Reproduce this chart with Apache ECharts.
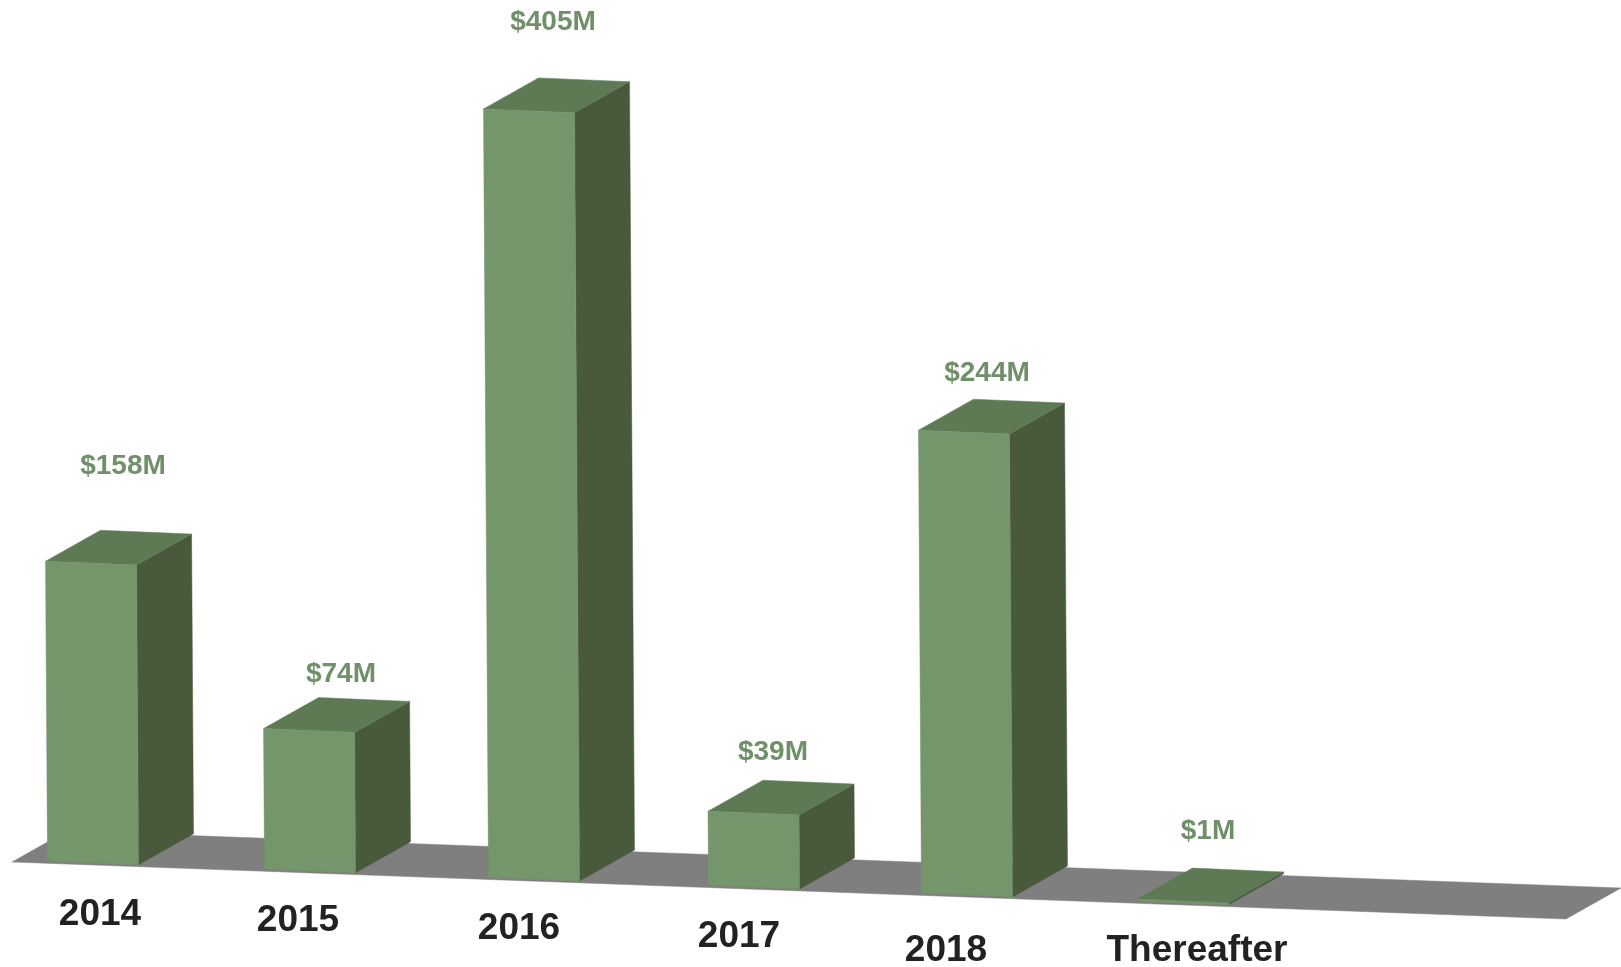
<!DOCTYPE html>
<html>
<head>
<meta charset="utf-8">
<style>html,body{margin:0;padding:0;background:#fff}#c{width:1621px;height:967px}</style>
<script src="https://cdn.jsdelivr.net/npm/echarts@6/dist/echarts.min.js"></script>
</head>
<body>
<div id="c"></div>
<script>
// ---- data ----
const categories = ['2014', '2015', '2016', '2017', '2018', 'Thereafter'];
const values = [158, 74, 405, 39, 244, 1];

// ---- layout of the pseudo-3D drawing (pixels, not data) ----
const barWidth = 91;
const depth = [55, -31];
const floorSlope = 0.0367;
const lean = 0.0065;
const barNudge = [0, -1, 5, 7, 2, 0];
const valueLabelPos = [[123, 466], [341, 674], [553, 22], [773, 752], [987, 373], [1208, 831]];
const catLabelPos = [[100, 915], [298, 921], [519, 929], [739, 937], [946, 951], [1197, 951]];

const C = { front: '#75956b', top: '#5d7a55', side: '#48593c', floor: '#7f7f7f', label: '#6f9068', cat: '#222222' };
const poly = (points, fill) => ({ type: 'polygon', shape: { points }, style: { fill, stroke: fill, lineWidth: 0.5 } });
const drop = x => x * floorSlope;

function renderFloor(params, api) {
  const o = api.coord([0, 0]);
  const left = o[0] - 81, right = left + 1554;   // ground plane extent around the first bar
  const y0 = o[1] + 1;
  const a = [left, y0];
  const b = [right, y0 + 57];
  return { type: 'group', children: [poly([
    a, b, [b[0] + depth[0], b[1] + depth[1]], [a[0] + depth[0], a[1] + depth[1]]
  ], C.floor)] };
}

function renderBar(params, api) {
  const i = params.dataIndex;
  const base0 = api.coord([i, 0]);
  const top0 = api.coord([i, api.value(1)]);
  const h = base0[1] - top0[1];
  const firstX = api.coord([0, 0])[0];
  const cx = base0[0] + barNudge[i];
  const yb = base0[1] + drop(cx - firstX);
  const xl = cx - barWidth / 2, xr = cx + barWidth / 2;
  const s = barWidth * 0.042;
  const dx = h * lean;
  const BL = [xl, yb], BR = [xr, yb + s];
  const TL = [xl - dx, yb - h], TR = [xr - dx, yb - h + s];
  const bTL = [TL[0] + depth[0], TL[1] + depth[1]], bTR = [TR[0] + depth[0], TR[1] + depth[1]];
  const bBR = [BR[0] + depth[0], BR[1] + depth[1]];
  return { type: 'group', children: [
    poly([BR, TR, bTR, bBR], C.side),
    poly([TL, bTL, bTR, TR], C.top),
    poly([BL, BR, TR, TL], C.front),
    { type: 'text', style: {
        x: valueLabelPos[i][0], y: valueLabelPos[i][1],
        text: '$' + api.value(1) + 'M', fill: C.label,
        font: 'bold 28px "Liberation Sans", Arial, sans-serif',
        textAlign: 'center', textVerticalAlign: 'middle' } },
    { type: 'text', style: {
        x: catLabelPos[i][0], y: catLabelPos[i][1],
        text: categories[i], fill: C.cat,
        font: 'bold 37px "Liberation Sans", Arial, sans-serif',
        textAlign: 'center', textVerticalAlign: 'middle' } }
  ] };
}

const chart = echarts.init(document.getElementById('c'), null, { renderer: 'canvas' });
chart.setOption({
  animation: false,
  backgroundColor: '#ffffff',
  grid: { left: 93, right: 438, top: 7.35, bottom: 106 },
  xAxis: { type: 'category', data: categories, show: false, boundaryGap: false },
  yAxis: { type: 'value', min: 0, max: 450, show: false },
  series: [
    { type: 'custom', name: 'floor', renderItem: renderFloor, data: [[0, 0]], clip: false, silent: true, z: 1 },
    { type: 'custom', name: 'Maturities', renderItem: renderBar, clip: false, z: 2,
      encode: { x: 0, y: 1 }, data: values.map((v, i) => [i, v]) }
  ]
});
</script>
</body>
</html>
